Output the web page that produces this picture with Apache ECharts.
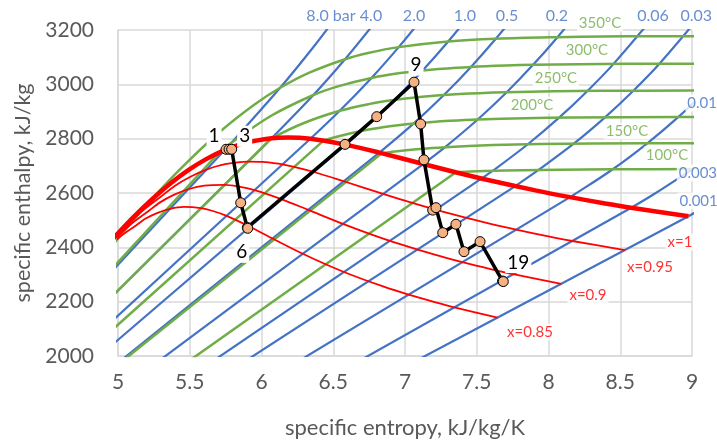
<!DOCTYPE html>
<html>
<head>
<meta charset="utf-8">
<title>h-s diagram</title>
<script src="https://cdn.jsdelivr.net/npm/echarts@6/dist/echarts.min.js"></script>
<style>
  html, body { margin: 0; padding: 0; background: #fff; }
  #chart { width: 717px; height: 442px; }
</style>
</head>
<body>
<div id="chart"></div>
<script>
// axis ticks
const sTicks = [5, 5.5, 6, 6.5, 7, 7.5, 8, 8.5, 9];
const hTicks = [2000, 2200, 2400, 2600, 2800, 3000, 3200];

// constant quality lines, [s, h]
const satVapour = [[4.9269,2409.7],[5.1044,2509.1],[5.2455,2580.6],[5.3717,2637.6],[5.4924,2684.9],[5.6141,2724.7],[5.7432,2758.0],[5.8892,2784.3],[6.0701,2801.4],[6.1869,2804.2],[6.3409,2799.5],[6.5865,2778.1],[6.8213,2748.7],[7.1271,2706.7],[7.3594,2675.5],[7.5939,2645.9],[7.9085,2609.7],[8.1502,2584.7],[8.3951,2561.5],[8.5765,2545.5],[8.9756,2514.2]];
const x095 = [[4.8813,2380.5],[5.0428,2470.2],[5.1705,2534.2],[5.2938,2584.3],[5.3926,2625.2],[5.5013,2658.8],[5.6164,2685.8],[5.7461,2705.9],[5.9064,2715.7],[6.0098,2714.3],[6.1462,2705.0],[6.3641,2677.3],[6.5733,2643.3],[6.8473,2596.5],[7.0566,2562.6],[7.2688,2530.6],[7.5548,2491.8],[7.7752,2465.0],[7.9992,2440.3],[8.1654,2423.3],[8.5321,2390.0]];
const x090 = [[4.8356,2351.4],[4.9811,2431.4],[5.0956,2487.6],[5.2059,2531.0],[5.2928,2565.5],[5.3886,2593.0],[5.4896,2613.8],[5.6030,2627.3],[5.7427,2630.0],[5.8328,2624.5],[5.9516,2610.4],[6.1417,2576.6],[6.3252,2537.9],[6.5674,2486.4],[6.7537,2449.7],[6.9436,2415.4],[7.2009,2373.9],[7.4001,2345.3],[7.6032,2319.1],[7.7543,2301.1],[8.0886,2265.7]];
const x085 = [[4.7900,2322.2],[4.9195,2392.5],[5.0206,2441.1],[5.1179,2477.6],[5.1930,2505.9],[5.2758,2527.1],[5.3627,2541.7],[5.4598,2548.8],[5.5790,2544.3],[5.6557,2534.7],[5.7569,2515.9],[5.9193,2475.8],[6.0772,2432.4],[6.2876,2376.3],[6.4509,2336.8],[6.6185,2300.1],[6.8471,2256.0],[7.0251,2225.7],[7.2073,2197.9],[7.3432,2178.8],[7.6451,2141.5]];

// isobars (MPa): sat. liquid, sat. vapour, then superheated points
const p8 = [[3.2068,1316.6],[5.7432,2758.0],[5.7906,2785.0],[6.1301,2987.3],[6.3634,3138.3],[6.5551,3272.0]];
const p4 = [[2.7964,1087.3],[6.0701,2801.4],[6.3615,2960.7],[6.5821,3092.5],[6.7690,3213.6]];
const p2 = [[2.4474,908.8],[6.3409,2799.5],[6.5453,2902.5],[6.7664,3023.5],[6.9563,3137.0],[7.1271,3247.6]];
const p1 = [[2.1387,762.8],[6.5865,2778.1],[6.6940,2827.9],[6.9247,2942.6],[7.1229,3051.2],[7.3011,3157.7],[7.4651,3263.9]];
const p05 = [[1.8607,640.2],[6.8213,2748.7],[7.0592,2855.4],[7.2709,2960.7],[7.4599,3064.2],[7.6329,3167.7],[7.7938,3271.9]];
const p02 = [[1.5301,504.7],[7.1271,2706.7],[7.2795,2768.8],[7.5066,2870.5],[7.7086,2971.0],[7.8926,3071.8],[8.0626,3173.6],[8.2218,3276.6]];
const p006 = [[1.1453,359.9],[7.5320,2652.9],[7.6106,2681.2],[7.8560,2779.4],[8.0739,2877.2],[8.2715,2975.7],[8.4532,3075.3],[8.7801,3278.8]];
const p003 = [[0.9439,289.2],[7.7686,2625.3],[7.9304,2684.9],[8.1758,2781.5],[8.3937,2878.6],[8.5913,2976.6],[8.7730,3075.9],[9.0999,3279.2]];
const p001 = [[0.6493,191.8],[8.1502,2584.7],[8.1749,2592.6],[8.4479,2687.5],[8.6882,2783.0],[8.9038,2879.5],[9.1002,2977.3]];
const p0003 = [[0.3543,101.0],[8.5765,2545.5],[8.7305,2594.3],[9.0035,2688.0]];
const p0001 = [[0.1059,29.3],[8.9756,2514.2],[9.2376,2594.5]];

// isotherms (°C): sat. liquid, sat. vapour, then superheated points
const t350 = [[3.7777,1670.9],[5.2112,2563.9],[5.4421,2692.4],[5.7118,2826.2],[5.9443,2923.4],[6.1301,2987.3],[6.3335,3043.0],[6.5821,3092.5],[6.7428,3115.3],[6.9563,3137.0],[7.3011,3157.7],[7.6329,3167.7],[8.0626,3173.6],[8.3856,3175.8],[8.7055,3177.0],[9.4483,3177.6]];
const t300 = [[3.2534,1344.8],[5.7045,2749.0],[5.7906,2785.0],[6.0674,2884.2],[6.3615,2960.7],[6.5390,2993.5],[6.7664,3023.5],[6.9534,3040.4],[7.1229,3051.2],[7.2328,3056.5],[7.4599,3064.2],[7.7022,3069.3],[7.8926,3071.8],[8.2158,3074.3],[8.5373,3075.5],[9.2813,3076.5]];
const t250 = [[2.7935,1085.8],[6.0701,2801.5],[6.2872,2855.8],[6.5453,2902.5],[6.7467,2927.2],[6.9247,2942.6],[7.0384,2950.0],[7.1816,2957.2],[7.2709,2960.7],[7.3789,2964.2],[7.5166,2967.6],[7.7086,2971.0],[8.0333,2974.3],[8.3556,2976.0],[9.1002,2977.3]];
const t200 = [[2.3305,852.3],[6.4302,2792.0],[6.4975,2803.3],[6.6940,2827.9],[6.8158,2839.3],[6.9665,2850.1],[7.0592,2855.4],[7.1706,2860.5],[7.3115,2865.6],[7.5066,2870.5],[7.8343,2875.3],[8.1580,2877.7],[8.9038,2879.5],[9.2237,2879.7]];
const t150 = [[1.8418,632.2],[6.8379,2745.9],[6.9299,2752.8],[7.0778,2761.0],[7.2795,2768.8],[7.6134,2776.4],[7.9401,2780.1],[8.6882,2783.0],[9.2439,2783.3]];
const t100 = [[1.3069,419.0],[7.3549,2676.1],[7.6947,2682.5],[8.4479,2687.5],[9.1906,2688.0]];

// process states 1..19, [s, h]
const process = [[5.753,2761],[5.774,2761],[5.792,2761],[5.855,2564],[5.901,2473],[5.904,2470],[6.582,2779],[6.803,2881],[7.063,3008],[7.109,2854],[7.132,2722],[7.193,2537],[7.216,2546],[7.263,2454],[7.355,2485],[7.411,2384],[7.523,2421],[7.680,2276],[7.685,2274]];
const processNames = ['1','','3','','','6','','','9','','','','','','','','','','19'];

// line labels
const pressureTop = ['8.0 bar','4.0','2.0','1.0','0.5','0.2','0.06','0.03'];
const pressureRight = ['0.01','0.003','0.001'];
const tempNames = ['350°C','300°C','250°C','200°C','150°C','100°C'];
const qualityNames = ['x=1','x=0.95','x=0.9','x=0.85'];

// where the labels sit, in axis units
const pressureTopAt = [[6.484,3253],[6.763,3253],[7.063,3253],[7.418,3253],[7.711,3253],[8.059,3253],[8.728,3253],[9.030,3253]];
const pressureRightAt = [[8.950,2931],[8.890,2674],[8.895,2571]];
const tempAt = [[8.359,3226],[8.268,3126],[8.052,3023],[7.885,2924],[8.547,2828],[8.826,2740]];
const qualityAt = [[8.916,2420],[8.707,2328],[8.275,2225],[7.871,2088]];
// offsets of the state labels from their markers, px
const processLabelOffset = {0:[-12,-13], 2:[13,-13], 5:[-6,24], 8:[2,-17], 18:[15,-19]};

const font = 'Lato, "Open Sans", sans-serif';
const blue = '#4472C4', green = '#70AD47', red = '#FF0000';

const series = [];

function addLine(pts, color, width, z) {
  // straight in the wet region, curved when superheated
  series.push({ type: 'line', data: pts.slice(0, 2), symbol: 'none', silent: true, z: z,
    lineStyle: { color: color, width: width } });
  series.push({ type: 'line', data: pts.slice(1), symbol: 'none', smooth: 0.35, silent: true, z: z,
    lineStyle: { color: color, width: width } });
}

[p8, p4, p2, p1, p05, p02, p006, p003, p001, p0003, p0001].forEach(function (p) {
  addLine(p, blue, 2.2, 2);
});
[t350, t300, t250, t200, t150, t100].forEach(function (t) {
  addLine(t, green, 2.5, 2);
});

[x095, x090, x085].forEach(function (q) {
  series.push({ type: 'line', data: q, symbol: 'none', smooth: 0.3, silent: true, z: 3,
    lineStyle: { color: red, width: 1.8 } });
});
series.push({ type: 'line', data: satVapour, symbol: 'none', smooth: 0.3, silent: true, z: 3,
  lineStyle: { color: red, width: 4.5 } });

function addLabels(names, at, color, size, where) {
  series.push({
    type: 'scatter', clip: false, silent: true, z: 4,
    symbolSize: 1, itemStyle: { color: 'rgba(0,0,0,0)' },
    data: names.map(function (n, i) { return { name: n, value: at[i] }; }),
    label: {
      show: true, formatter: '{b}', position: where, distance: 0,
      color: color, fontSize: size, fontFamily: font,
      backgroundColor: '#fff', padding: [1, 2]
    }
  });
}
addLabels(pressureTop, pressureTopAt, blue, 16, 'inside');
addLabels(pressureRight, pressureRightAt, blue, 15, 'right');
addLabels(tempNames, tempAt, green, 15, 'inside');
addLabels(qualityNames, qualityAt, red, 15, 'inside');

series.push({
  type: 'line', z: 5, silent: true,
  data: process.map(function (p, i) {
    const item = { value: p };
    if (processNames[i]) {
      item.label = { show: true, formatter: processNames[i], position: 'inside',
        offset: processLabelOffset[i], color: '#000', fontSize: 19, fontFamily: font,
        backgroundColor: '#fff', padding: [1, 2] };
    }
    return item;
  }),
  symbol: 'circle', symbolSize: 10,
  itemStyle: { color: '#F4B183', borderColor: '#000', borderWidth: 1 },
  lineStyle: { color: '#000', width: 3.5 }
});

const chart = echarts.init(document.getElementById('chart'), null, { renderer: 'canvas' });
chart.setOption({
  animation: false,
  backgroundColor: '#fff',
  grid: { left: 118, right: 25, top: 30, bottom: 86, outerBoundsMode: 'none' },
  xAxis: {
    type: 'value', min: sTicks[0], max: sTicks[sTicks.length - 1], interval: sTicks[1] - sTicks[0],
    name: 'specific entropy, kJ/kg/K', nameLocation: 'middle', nameGap: 61,
    nameTextStyle: { color: '#595959', fontSize: 22, fontFamily: font },
    axisLine: { lineStyle: { color: '#D9D9D9', width: 1.5 } },
    axisTick: { show: false },
    axisLabel: { color: '#595959', fontSize: 21, fontFamily: font, margin: 16 },
    splitLine: { lineStyle: { color: '#D9D9D9', width: 1.5 } }
  },
  yAxis: {
    type: 'value', min: hTicks[0], max: hTicks[hTicks.length - 1], interval: hTicks[1] - hTicks[0],
    name: 'specific enthalpy, kJ/kg', nameLocation: 'middle', nameGap: 71,
    nameTextStyle: { color: '#595959', fontSize: 21.5, fontFamily: font },
    axisLine: { show: true, lineStyle: { color: '#D9D9D9', width: 1.5 } },
    axisTick: { show: false },
    axisLabel: { color: '#595959', fontSize: 21, fontFamily: font, margin: 24,
      formatter: function (v) { return String(v); } },
    splitLine: { lineStyle: { color: '#D9D9D9', width: 1.5 } }
  },
  series: series
});
</script>
</body>
</html>
